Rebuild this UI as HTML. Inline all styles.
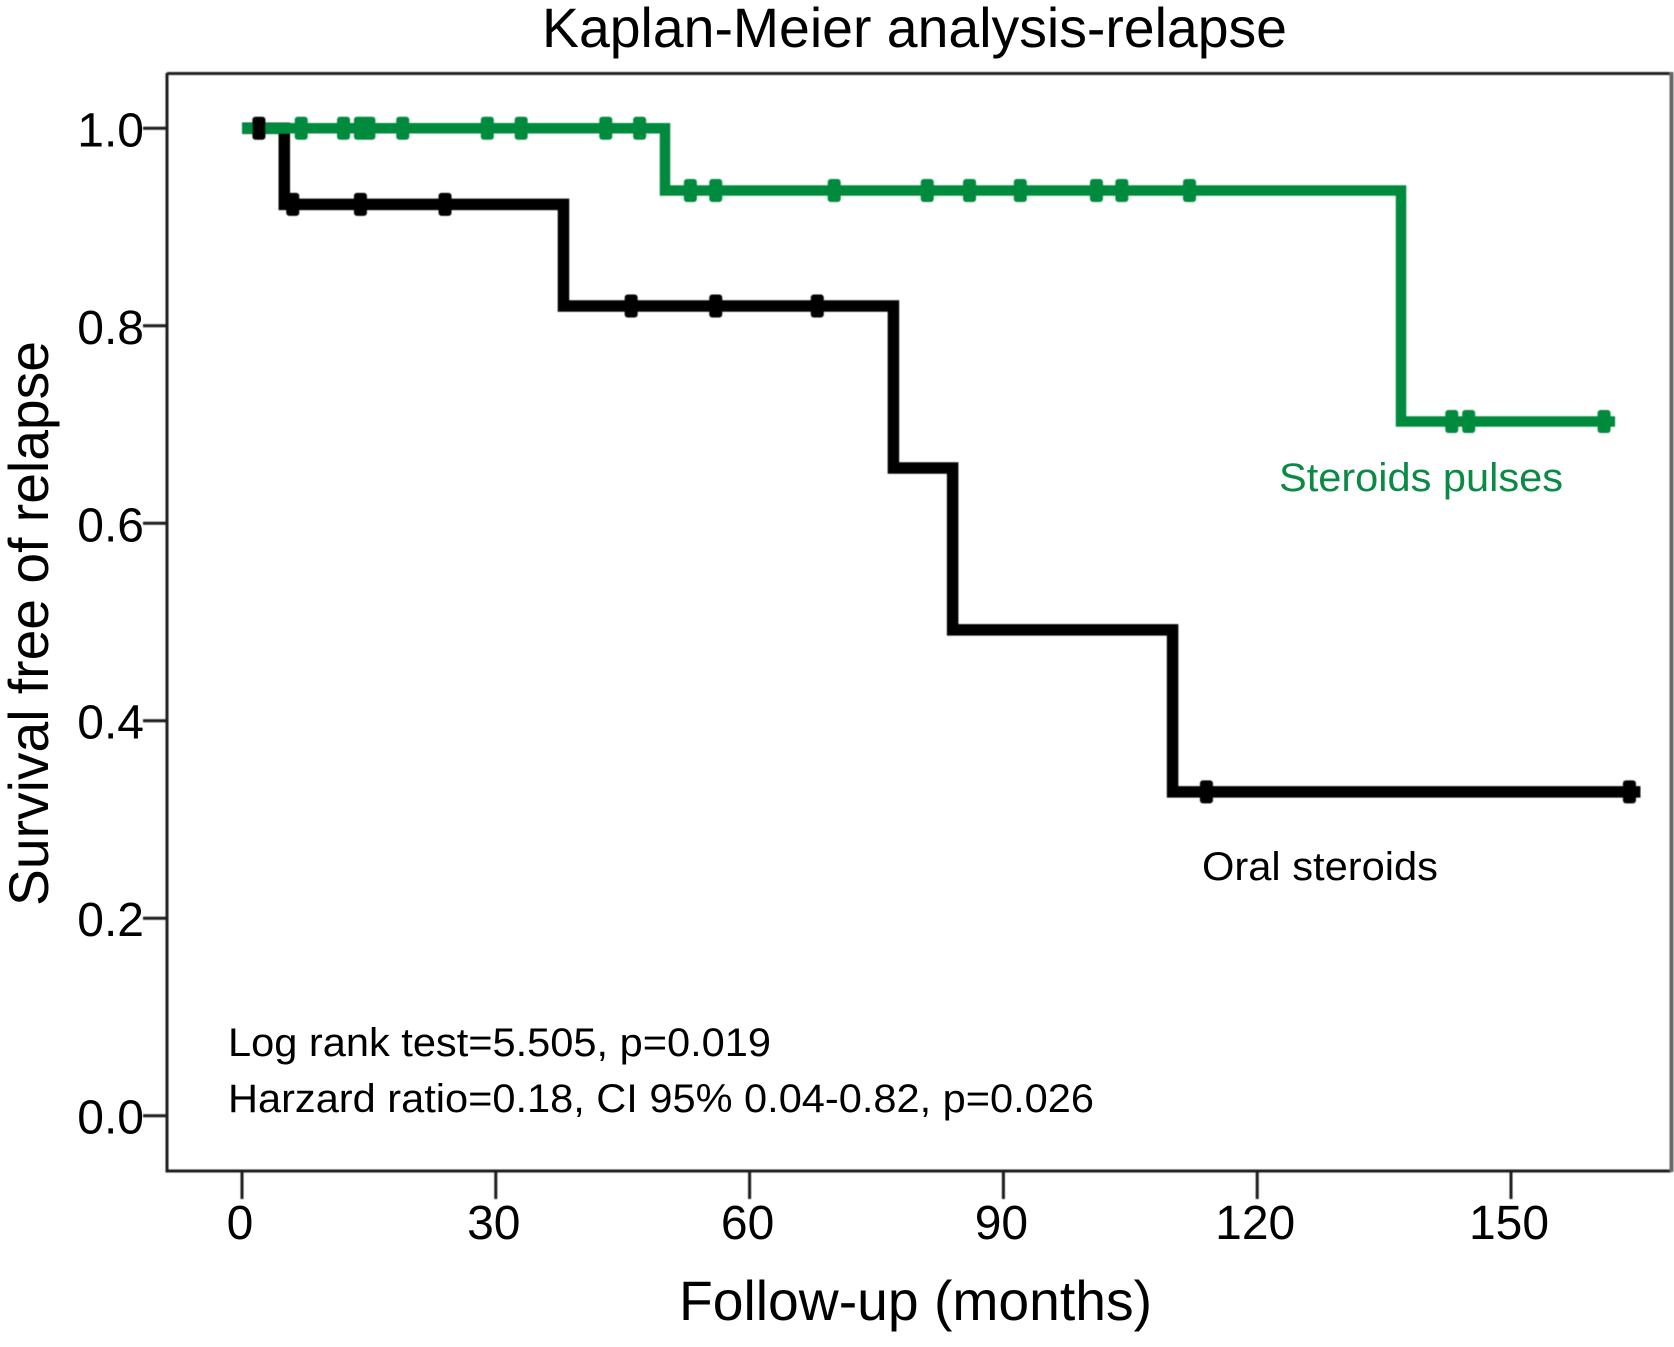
<!DOCTYPE html>
<html lang="en">
<head>
<meta charset="utf-8">
<title>Kaplan-Meier analysis-relapse</title>
<style>
html,body{margin:0;padding:0;background:#fff;width:1674px;height:1347px;overflow:hidden}
svg{display:block}
text{font-family:"Liberation Sans",Arial,sans-serif;fill:#000}
</style>
</head>
<body>
<svg id="chart" xmlns="http://www.w3.org/2000/svg" width="1674" height="1347" viewBox="0 0 1674 1347">
  <defs>
    <filter id="soft" x="-5%" y="-5%" width="110%" height="110%"><feGaussianBlur stdDeviation="0.6"/></filter>
  </defs>
  <rect x="0" y="0" width="1674" height="1347" fill="#fff"/>
  <text x="542" y="47" font-size="56" textLength="745" lengthAdjust="spacingAndGlyphs">Kaplan-Meier analysis-relapse</text>
  <g id="axes" filter="url(#soft)"></g>
  <g id="marks" filter="url(#soft)"></g>
  <text x="1279" y="491" font-size="40" style="fill:#0a8a45" textLength="284" lengthAdjust="spacingAndGlyphs">Steroids pulses</text>
  <text x="1202" y="880" font-size="40" textLength="236" lengthAdjust="spacingAndGlyphs">Oral steroids</text>
  <text x="228" y="1056" font-size="40" textLength="543" lengthAdjust="spacingAndGlyphs">Log rank test=5.505, p=0.019</text>
  <text x="228" y="1112" font-size="40" textLength="866" lengthAdjust="spacingAndGlyphs">Harzard ratio=0.18, CI 95% 0.04-0.82, p=0.026</text>
  <text x="679" y="1320" font-size="56" textLength="473" lengthAdjust="spacingAndGlyphs">Follow-up (months)</text>
  <text transform="translate(48 906) rotate(-90)" x="0" y="0" font-size="56" textLength="565" lengthAdjust="spacingAndGlyphs">Survival free of relapse</text>
</svg>
<script>
var xTickValues = [0, 30, 60, 90, 120, 150];
var yTickValues = [0, 0.2, 0.4, 0.6, 0.8, 1.0];
var yTickLabels = ['0.0', '0.2', '0.4', '0.6', '0.8', '1.0'];

var oralTimes = [0, 5, 38, 77, 84, 110];
var oralSurvival = [1, 0.923, 0.82, 0.656, 0.492, 0.328];
var oralEnd = 165.3;
var oralCensored = [2, 6, 14, 24, 46, 56, 68, 114, 164];

var pulseTimes = [0, 50, 137];
var pulseSurvival = [1, 0.937, 0.703];
var pulseEnd = 162.3;
var pulseCensored = [7, 12, 14, 15, 19, 29, 33, 43, 47, 53, 56, 70, 81, 86, 92, 101, 104, 112, 143, 145, 161];

function xScale(m) { return 242 + m * (1511 - 242) / 150; }
function yScale(s) { return 1115.7 - s * 987.4; }

var NS = 'http://www.w3.org/2000/svg';
var axes = document.getElementById('axes');
var marks = document.getElementById('marks');

function make(parent, tag, attrs) {
  var el = document.createElementNS(NS, tag);
  for (var k in attrs) el.setAttribute(k, attrs[k]);
  parent.appendChild(el);
  return el;
}

function survivalAt(times, values, t) {
  var s = values[0];
  for (var i = 0; i < times.length; i++) if (times[i] <= t) s = values[i];
  return s;
}

function stepPath(times, values, end) {
  var d = 'M' + xScale(times[0]) + ' ' + yScale(values[0]);
  for (var i = 1; i < times.length; i++) {
    d += 'H' + xScale(times[i]) + 'V' + yScale(values[i]);
  }
  return d + 'H' + xScale(end);
}

var frameLeft = make(axes, 'path', {d: 'M167 73V1171H1671', fill: 'none', stroke: '#1c1c1c', 'stroke-width': 3});



var frameTop = make(axes, 'path', {d: 'M167 73.5H1671', fill: 'none', stroke: '#222', 'stroke-width': 3});



var frameRight = make(axes, 'path', {d: 'M1671.5 72V1172', fill: 'none', stroke: '#666', 'stroke-width': 4});



xTickValues.forEach(function (v) {
  var x = xScale(v);
  var tick = make(axes, 'line', {x1: x, x2: x, y1: 1171, y2: 1199, stroke: '#1c1c1c', 'stroke-width': 3});
  
  
  var label = make(document.getElementById('chart'), 'text', {x: x - 2, y: 1239, 'font-size': 48, 'text-anchor': 'middle'});
  label.textContent = String(v);
  
  
});

yTickValues.forEach(function (v, i) {
  var y = yScale(v);
  var tick = make(axes, 'line', {x1: 143, x2: 167, y1: y, y2: y, stroke: '#1c1c1c', 'stroke-width': 3});
  
  
  var label = make(document.getElementById('chart'), 'text', {x: 144, y: y + 18, 'font-size': 48, 'text-anchor': 'end'});
  label.textContent = yTickLabels[i];
  
  
});

function drawCensors(times, values, list, color, name) {
  list.forEach(function (t) {
    var x = xScale(t);
    var y = yScale(survivalAt(times, values, t));
    var m = make(marks, 'rect', {x: x - 6.5, y: y - 11.5, width: 13, height: 23, rx: 3, fill: color});
    
    
  });
}

var GREEN = '#008a3c';
var BLACK = '#000';

var oralLine = make(marks, 'path', {d: stepPath(oralTimes, oralSurvival, oralEnd), fill: 'none', stroke: BLACK, 'stroke-width': 11.5, 'stroke-linejoin': 'miter'});



var pulseLine = make(marks, 'path', {d: stepPath(pulseTimes, pulseSurvival, pulseEnd), fill: 'none', stroke: GREEN, 'stroke-width': 10.5, 'stroke-linejoin': 'miter'});



drawCensors(pulseTimes, pulseSurvival, pulseCensored, GREEN, 'steroids-pulses-censor-mark');
drawCensors(oralTimes, oralSurvival, oralCensored, BLACK, 'oral-steroids-censor-mark');
</script>
</body>
</html>
